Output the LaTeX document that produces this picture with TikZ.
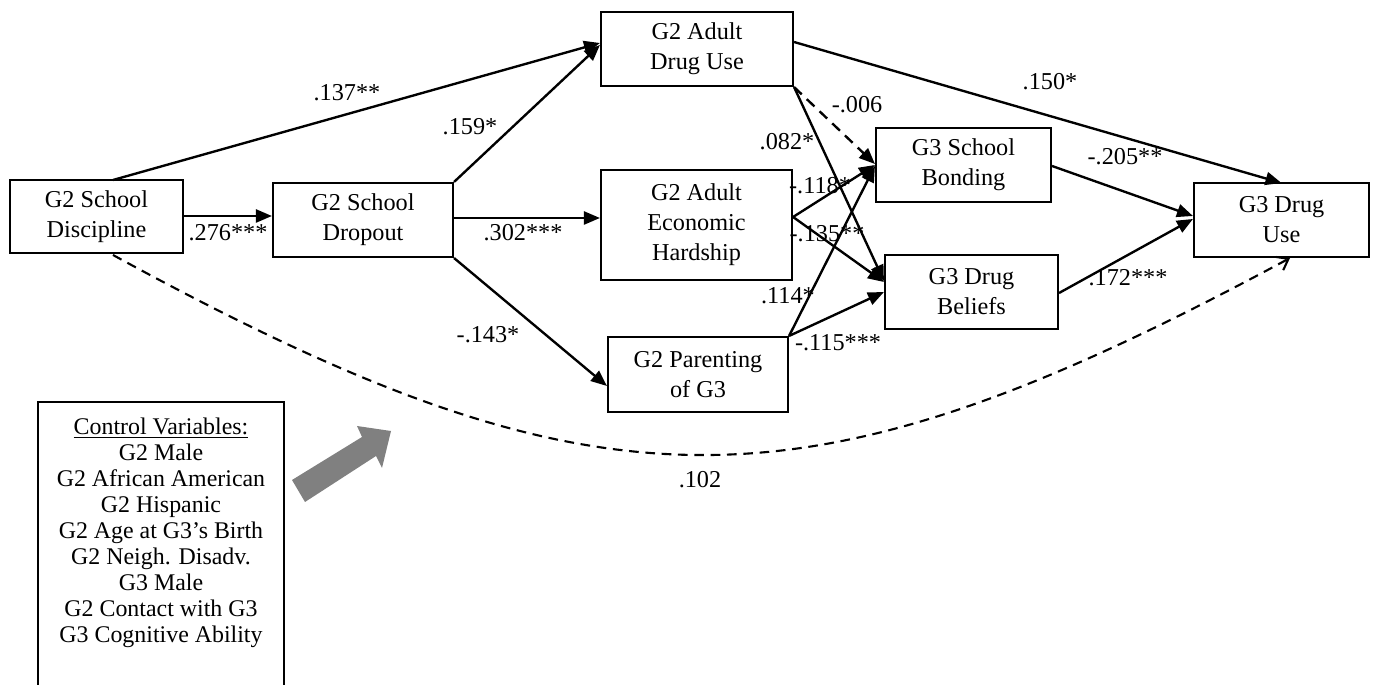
\documentclass[tikz,border=0pt]{standalone}
\usepackage{fontspec}
\setmainfont{Liberation Serif}
\usetikzlibrary{arrows.meta}
\begin{document}
\begin{tikzpicture}[x=0.02cm,y=-0.02cm,
  box/.style={draw,line width=1.2pt,align=center,inner sep=0pt,font=\fontsize{13.8}{17}\selectfont},
  lab/.style={font=\fontsize{13.8}{17}\selectfont,inner sep=0pt},
  arr/.style={line width=1.35pt,-{Triangle[length=0.32cm,width=0.26cm]}},
  darr/.style={line width=1.35pt,dash pattern=on 6pt off 4pt,-{Triangle[length=0.32cm,width=0.26cm]}}]
\useasboundingbox (0,0) rectangle (1376,685);
% boxes
\node[box,minimum width=173*0.02cm,minimum height=73*0.02cm] (disc) at (96.5,216.5) {G2 School\\Discipline};
\node[box,minimum width=180*0.02cm,minimum height=74*0.02cm] (drop) at (363,220) {G2 School\\Dropout};
\node[box,minimum width=192*0.02cm,minimum height=74*0.02cm] (adu) at (697,49) {G2 Adult\\Drug Use};
\node[box,minimum width=191*0.02cm,minimum height=110*0.02cm] (econ) at (696.5,225) {G2 Adult\\Economic\\Hardship};
\node[box,minimum width=180*0.02cm,minimum height=75*0.02cm] (par) at (698,374.5) {G2 Parenting\\of G3};
\node[box,minimum width=175*0.02cm,minimum height=74*0.02cm] (bond) at (963.5,165) {G3 School\\Bonding};
\node[box,minimum width=173*0.02cm,minimum height=74*0.02cm] (bel) at (971.5,292) {G3 Drug\\Beliefs};
\node[box,minimum width=175*0.02cm,minimum height=74*0.02cm] (g3) at (1281.5,220) {G3 Drug\\Use};
% control box (bottom runs off the page)
\begin{scope}
\clip (0,0) rectangle (1376,685);
\draw[line width=1pt] (38,702) -- (38,402) -- (284,402) -- (284,702);
\end{scope}
\node[font=\fontsize{13.6}{14.8}\selectfont,align=center,anchor=north,inner sep=0pt] (ctrl) at (161,418)
 {\underline{Control Variables:}\\G2 Male\\G2 African American\\G2 Hispanic\\G2 Age at G3’s Birth\\G2 Neigh. Disadv.\\G3 Male\\G2 Contact with G3\\G3 Cognitive Ability};
% grey arrow
\definecolor{arrgray}{RGB}{128,128,128}
\fill[arrgray] (292,480) -- (362,437) -- (357,426) -- (391,431) -- (382,468) -- (376,456) -- (305,502) -- cycle;
% connectors
\coordinate (discT) at (113,180);
\coordinate (discB) at (113,255);
\draw[arr] (discT) -- (adu.west |- 0,43);
\draw[arr] (disc.east |- 0,216) -- (drop.west |- 0,216);
\draw[arr] (drop.north east) -- (adu.west |- 0,45);
\draw[arr] (drop.east |- 0,218) -- (econ.west |- 0,218);
\draw[arr] (drop.south east) -- (par.west |- 0,386);
\draw[darr] (adu.south east) -- (bond.west |- 0,164);
\draw[arr] (adu.south east) -- (bel.west |- 0,281);
\draw[arr] (econ.east |- 0,217) -- (bond.west |- 0,165);
\draw[arr] (econ.east |- 0,217) -- (bel.west |- 0,282);
\draw[arr] (par.north east) -- (bond.west |- 0,166);
\draw[arr] (par.north east) -- (bel.west |- 0,292);
\draw[arr] (adu.east |- 0,42) -- (g3.north |- 0,183);
\draw[arr] (bond.east |- 0,166) -- (g3.west |- 0,216);
\draw[arr] (bel.east |- 0,293) -- (g3.west |- 0,219);
\coordinate (g3B) at (1290,258);
\draw[line width=1.2pt,dash pattern=on 5.5pt off 3.8pt,-{Straight Barb[length=0.2cm,width=0.3cm,line width=1.2pt]}] (discB) .. controls (600,521) and (802,521) .. (g3B);
% labels
\node[lab] at (347,93) {.137**};
\node[lab] at (228,233) {.276***};
\node[lab] at (470,127) {.159*};
\node[lab] at (523,233) {.302***};
\node[lab] at (488,335) {-.143*};
\node[lab] at (857,105) {-.006};
\node[lab] at (787,142) {.082*};
\node[lab] at (820,186) {-.118*};
\node[lab] at (827,234) {-.135**};
\node[lab] at (788,296) {.114*};
\node[lab] at (838,343) {-.115***};
\node[lab] at (1050,82) {.150*};
\node[lab] at (1125,157) {-.205**};
\node[lab] at (1128,278) {.172***};
\node[lab] at (700,480) {.102};
\end{tikzpicture}
\end{document}
